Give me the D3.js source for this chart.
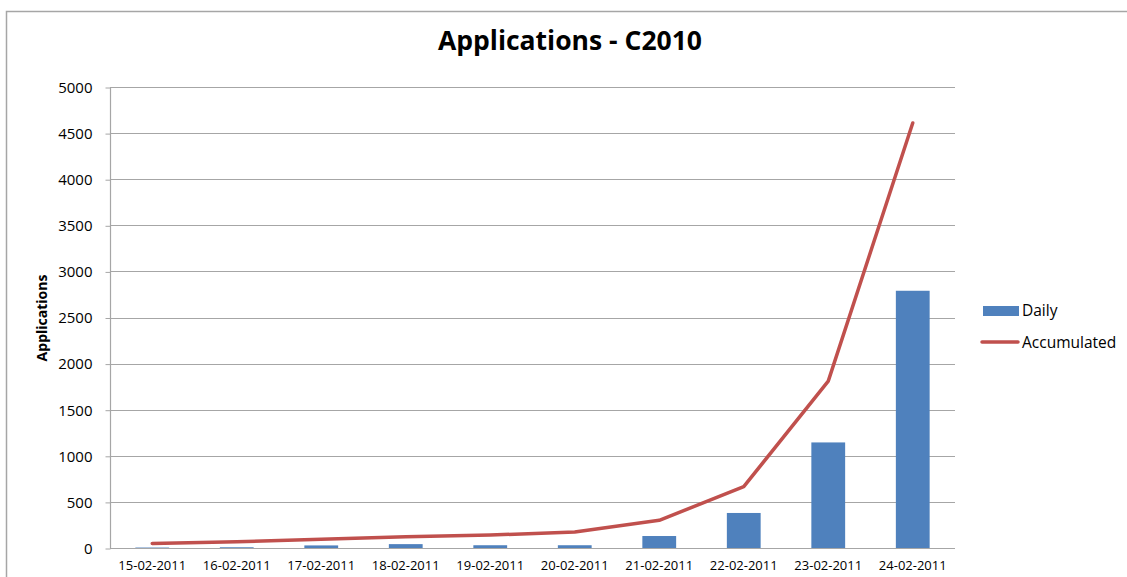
<!DOCTYPE html>
<html>
<head>
<meta charset="utf-8">
<script src="https://cdn.jsdelivr.net/npm/d3@7"></script>
<style>
  html, body { margin: 0; padding: 0; background: #ffffff; }
  svg { display: block; }
  text { font-family: "Open Sans", sans-serif; fill: #000; }
</style>
</head>
<body>
<svg id="chart" width="1127" height="577"></svg>
<script>
const categories = ["15-02-2011","16-02-2011","17-02-2011","18-02-2011","19-02-2011","20-02-2011","21-02-2011","22-02-2011","23-02-2011","24-02-2011"];
const daily = [5, 8, 28, 42, 30, 30, 130, 380, 1145, 2790];
const accumulated = [50, 68, 94, 123, 141, 173, 300, 665, 1810, 4610];
const yTicks = [0, 500, 1000, 1500, 2000, 2500, 3000, 3500, 4000, 4500, 5000];
const title = "Applications - C2010";
const yTitle = "Applications";
const seriesNames = ["Daily", "Accumulated"];

const svg = d3.select("#chart");
const W = 1127, H = 577;
const plot = {left: 110, right: 955, top: 87, bottom: 548};
const FONT = "'Open Sans', sans-serif";

// outer frame
svg.append("rect").attr("x", 6.5).attr("y", 11.5).attr("width", W + 10).attr("height", H + 10)
  .attr("fill", "none").attr("stroke", "#a6a6a6").attr("stroke-width", 1.5);

const x = d3.scaleBand().domain(categories).range([plot.left, plot.right]).paddingInner(0.6).paddingOuter(0.3);
const y = d3.scaleLinear().domain([0, 5000]).range([plot.bottom, plot.top]);

// gridlines
svg.append("g").selectAll("line").data(yTicks.filter(d => d > 0)).join("line")
  .attr("x1", plot.left).attr("x2", plot.right)
  .attr("y1", d => Math.round(y(d)) + 0.5).attr("y2", d => Math.round(y(d)) + 0.5)
  .attr("stroke", "#a6a6a6").attr("stroke-width", 1.2);

// y axis
const yAxis = d3.axisLeft(y).tickValues(yTicks).tickSize(5).tickPadding(13).tickFormat(d3.format("d"));
const yg = svg.append("g").attr("transform", `translate(${plot.left + 0.5},0.5)`).call(yAxis);
yg.select(".domain").attr("stroke", "#a6a6a6").attr("stroke-width", 1.2).attr("d", `M0,${plot.top}V${plot.bottom}`);
yg.selectAll(".tick line").attr("stroke", "#a6a6a6");
yg.selectAll(".tick text").attr("font-size", 15).attr("font-family", FONT).attr("fill", "#000");

// x axis
const xAxis = d3.axisBottom(x).tickSize(0).tickPadding(12);
const xg = svg.append("g").attr("transform", `translate(0,${plot.bottom + 0.5})`).call(xAxis);
xg.select(".domain").attr("stroke", "#a6a6a6").attr("stroke-width", 1.2).attr("d", `M${plot.left},0H${plot.right}`);
xg.selectAll(".tick text").attr("font-size", 13).attr("font-family", FONT).attr("fill", "#000");

// bars
svg.append("g").selectAll("rect").data(daily).join("rect")
  .attr("x", (d, i) => x(categories[i]))
  .attr("width", x.bandwidth())
  .attr("y", d => y(d))
  .attr("height", d => plot.bottom - y(d))
  .attr("fill", "#4f81bd");

// line
const line = d3.line().x((d, i) => x(categories[i]) + x.bandwidth() / 2).y(d => y(d));
svg.append("path").datum(accumulated).attr("d", line)
  .attr("fill", "none").attr("stroke", "#c0504d").attr("stroke-width", 3.5)
  .attr("stroke-linejoin", "round").attr("stroke-linecap", "round");

// title
svg.append("text").attr("x", 570).attr("y", 50).attr("text-anchor", "middle")
  .attr("font-size", 26.5).attr("font-weight", "bold").text(title);

// y title
svg.append("text").attr("transform", "translate(47,318) rotate(-90)").attr("text-anchor", "middle")
  .attr("font-size", 14).attr("font-weight", "bold").text(yTitle);

// legend
const lg = svg.append("g");
lg.append("rect").attr("x", 983).attr("y", 306).attr("width", 36).attr("height", 10).attr("fill", "#4f81bd");
lg.append("text").attr("x", 1022).attr("y", 316).attr("font-size", 15.5).text(seriesNames[0]);
lg.append("line").attr("x1", 982).attr("x2", 1018).attr("y1", 342).attr("y2", 342)
  .attr("stroke", "#c0504d").attr("stroke-width", 3.5).attr("stroke-linecap", "round");
lg.append("text").attr("x", 1022).attr("y", 348).attr("font-size", 15.5).text(seriesNames[1]);
</script>
</body>
</html>
